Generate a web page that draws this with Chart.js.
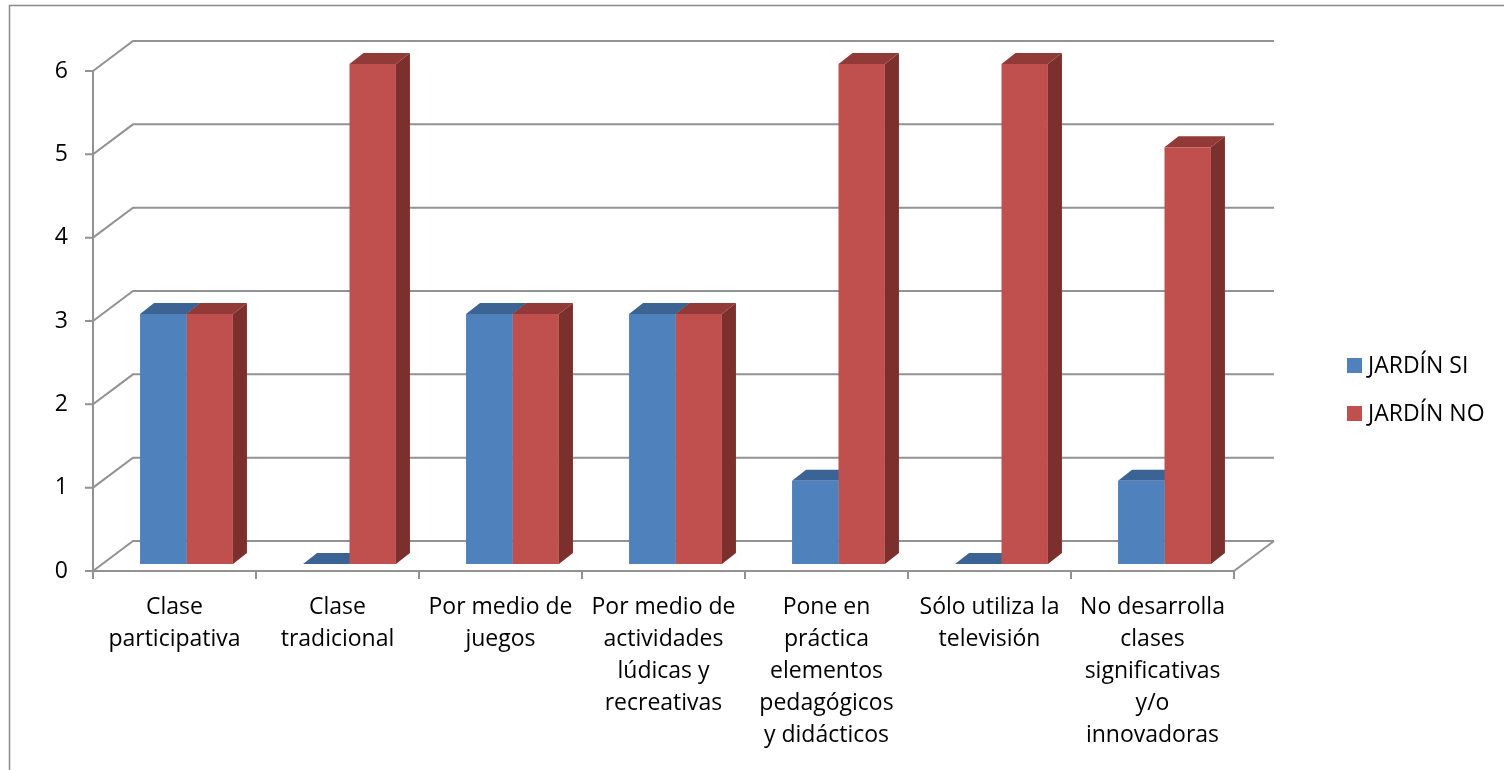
<!DOCTYPE html>
<html>
<head>
<meta charset="utf-8">
<script src="https://cdn.jsdelivr.net/npm/chart.js@4.4.1/dist/chart.umd.min.js"></script>
<style>
  html, body { margin: 0; padding: 0; background: #fff; }
  #wrap { position: relative; width: 1504px; height: 770px; }
</style>
</head>
<body>
<div id="wrap"><canvas id="grafico" width="1504" height="770"></canvas></div>
<script>
const categorias = [
    ['Clase', 'participativa'],
    ['Clase', 'tradicional'],
    ['Por medio de', 'juegos'],
    ['Por medio de', 'actividades', 'lúdicas y', 'recreativas'],
    ['Pone en', 'práctica', 'elementos', 'pedagógicos', 'y didácticos'],
    ['Sólo utiliza la', 'televisión'],
    ['No desarrolla', 'clases', 'significativas', 'y/o', 'innovadoras']
];
const series = ['JARDÍN SI', 'JARDÍN NO'];
const jardinSi = [3, 0, 3, 3, 1, 0, 1];
const jardinNo = [3, 6, 3, 3, 6, 6, 5];
const ticksY = [0, 1, 2, 3, 4, 5, 6];

const coloresFrente = ['#4F81BD', '#C0504D'];
const coloresTapa = ['#3B6393', '#913A37'];
const coloresLado = ['#345A87', '#7C302E'];

const FUENTE = '"Open Sans", sans-serif';
const GRIS = '#929292';

// Desplazamientos de la perspectiva, relativos al plano frontal de las barras
const FRENTE = { dx: -12, dy: 7 };   // plano del eje frontal
const FONDO = { dx: 28, dy: -23 };   // pared del fondo
const PROF = { dx: 14, dy: -11 };    // profundidad de cada barra

// Paredes, rejilla en perspectiva y caras laterales/superiores de las barras
const marco3D = {
    id: 'marco3D',
    beforeDraw(chart) {
        const { ctx, width, height } = chart;
        ctx.save();
        ctx.strokeStyle = '#8a8a8a';
        ctx.lineWidth = 1.5;
        ctx.beginPath();
        ctx.moveTo(9.5, height);
        ctx.lineTo(9.5, 5.5);
        ctx.lineTo(width, 5.5);
        ctx.stroke();
        ctx.restore();
    },
    beforeDatasetsDraw(chart) {
        const { ctx, chartArea: a, scales: { x, y } } = chart;
        const izq = a.left + FRENTE.dx;
        const der = a.right + FRENTE.dx;
        const y0f = y.getPixelForValue(0) + FRENTE.dy;
        const y0b = y.getPixelForValue(0) + FONDO.dy;
        const yTopF = y.getPixelForValue(ticksY[ticksY.length - 1]) + FRENTE.dy;

        ctx.save();
        ctx.strokeStyle = GRIS;
        ctx.lineWidth = 2;
        ctx.lineCap = 'butt';

        // lineas de la pared del fondo con su diagonal en la pared izquierda
        ticksY.forEach(v => {
            const yf = y.getPixelForValue(v) + FRENTE.dy;
            const yb = y.getPixelForValue(v) + FONDO.dy;
            ctx.beginPath();
            ctx.moveTo(izq - 8, yf);
            ctx.lineTo(izq, yf);
            ctx.lineTo(a.left + FONDO.dx, yb);
            ctx.lineTo(a.right + FONDO.dx, yb);
            ctx.stroke();
        });

        // eje vertical, borde frontal del piso y borde derecho
        ctx.beginPath();
        ctx.moveTo(izq, yTopF);
        ctx.lineTo(izq, y0f);
        ctx.lineTo(der, y0f);
        ctx.lineTo(a.right + FONDO.dx, y0b);
        ctx.stroke();

        // marcas de categoria
        ctx.beginPath();
        for (let i = 0; i <= categorias.length; i++) {
            const xt = x.getPixelForValue(i - 0.5) + FRENTE.dx;
            ctx.moveTo(xt, y0f);
            ctx.lineTo(xt, y0f + 8);
        }
        ctx.stroke();

        // caras superior y lateral de cada barra
        chart.data.datasets.forEach((ds, i) => {
            const meta = chart.getDatasetMeta(i);
            meta.data.forEach(bar => {
                const { x: bx, y: by, base, width } = bar.getProps(['x', 'y', 'base', 'width'], true);
                const l = bx - width / 2;
                const r = bx + width / 2;

                ctx.fillStyle = coloresTapa[i];
                ctx.beginPath();
                ctx.moveTo(l, by);
                ctx.lineTo(l + PROF.dx, by + PROF.dy);
                ctx.lineTo(r + PROF.dx, by + PROF.dy);
                ctx.lineTo(r, by);
                ctx.closePath();
                ctx.fill();

                ctx.fillStyle = coloresLado[i];
                ctx.beginPath();
                ctx.moveTo(r, by);
                ctx.lineTo(r + PROF.dx, by + PROF.dy);
                ctx.lineTo(r + PROF.dx, base + PROF.dy);
                ctx.lineTo(r, base);
                ctx.closePath();
                ctx.fill();
            });
        });
        ctx.restore();
    }
};

// Leyenda a la derecha
const leyenda = {
    id: 'leyenda',
    afterDraw(chart) {
        const { ctx } = chart;
        ctx.save();
        ctx.font = '23px ' + FUENTE;
        ctx.textBaseline = 'alphabetic';
        ctx.textAlign = 'left';
        series.forEach((nombre, i) => {
            const top = 358 + i * 48;
            ctx.fillStyle = coloresFrente[i];
            ctx.fillRect(1347, top, 15, 15);
            ctx.fillStyle = '#000';
            ctx.fillText(nombre, 1368, top + 15);
        });
        ctx.restore();
    }
};

new Chart(document.getElementById('grafico'), {
    type: 'bar',
    data: {
        labels: categorias,
        datasets: [
            { label: series[0], data: jardinSi, backgroundColor: coloresFrente[0] },
            { label: series[1], data: jardinNo, backgroundColor: coloresFrente[1] }
        ]
    },
    options: {
        responsive: false,
        animation: false,
        devicePixelRatio: 1,
        layout: { padding: { left: 0, right: 258, top: 64, bottom: 0 } },
        datasets: { bar: { categoryPercentage: 0.57, barPercentage: 1 } },
        plugins: {
            legend: { display: false },
            tooltip: { enabled: false }
        },
        scales: {
            x: {
                grid: { display: false, drawTicks: false },
                border: { display: false },
                ticks: {
                    color: '#000',
                    font: { family: FUENTE, size: 23, lineHeight: 1.4 },
                    padding: 27,
                    labelOffset: -12,
                    maxRotation: 0,
                    autoSkip: false
                },
                afterFit(scale) { scale.height = 206; }
            },
            y: {
                min: 0,
                max: 6,
                grid: { display: false, drawTicks: false },
                border: { display: false },
                ticks: {
                    stepSize: 1,
                    color: '#000',
                    font: { family: FUENTE, size: 23 },
                    padding: 37,
                    labelOffset: 7
                },
                afterFit(scale) { scale.width = 105; }
            }
        }
    },
    plugins: [marco3D, leyenda]
});
</script>
</body>
</html>
